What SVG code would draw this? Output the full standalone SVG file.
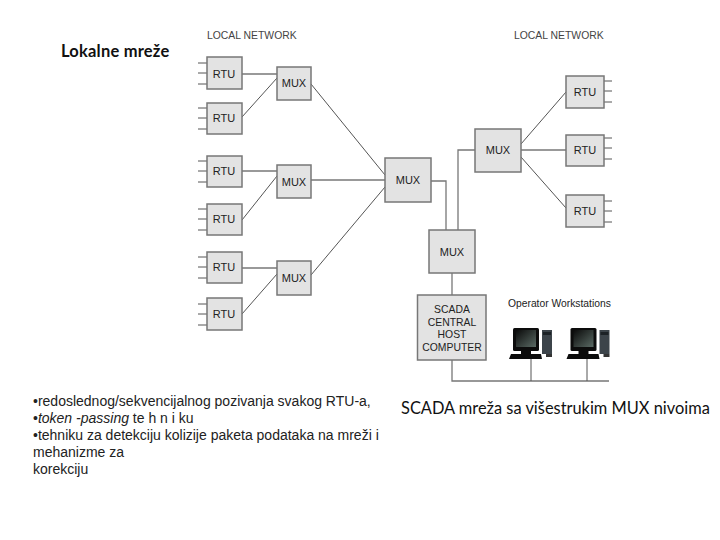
<svg xmlns="http://www.w3.org/2000/svg" width="720" height="540" viewBox="0 0 720 540">
<style>
text{font-family:"Liberation Sans",Arial,sans-serif;fill:#222}
.b{fill:#e3e3e3;stroke:#777;stroke-width:1.5}
.l{font-size:11px;text-anchor:middle}
.n{font-size:10.4px;fill:#444}
.c{fill:none;stroke:#777;stroke-width:1.3}
.d{fill:none;stroke:#555;stroke-width:1}
.s{stroke:#555;stroke-width:1;fill:none}
.h{font-size:10.4px;text-anchor:middle}
.cap{fill:#111}
.k{fill:#0c0c0c}
.g{fill:#3c444a}
</style>
<defs>
<linearGradient id="scr" x1="0" y1="0" x2="1" y2="1"><stop offset="0" stop-color="#0a0a0a"/><stop offset="1" stop-color="#5a6a64"/></linearGradient>
<g id="stL"><path class="s" d="M198 0h9M198 10h9M198 21h9"/></g>
<g id="stR"><path class="s" d="M604 0h8M604 10h8M604 21h8"/></g>
<g id="pc">
<rect class="k" x="4" y="0" width="26" height="23" rx="1.500"/>
<rect x="7" y="2" width="20" height="17" fill="url(#scr)"/>
<path class="k" d="M12 23h10v3h10l1 5H0l2-5h10z"/>
<rect class="g" x="33" y="2" width="10" height="24"/>
<rect x="34" y="4" width="8" height="3" fill="#1c2226"/>
<rect x="37" y="26" width="6" height="3" fill="#333"/>
</g>
</defs>
<text class="cap" x="61" y="57" font-size="16.500" font-weight="700" letter-spacing="0.200" style="font-family:Lato,'Open Sans',sans-serif">Lokalne mreže</text>
<text class="n" x="207" y="39">LOCAL NETWORK</text>
<text class="n" x="514" y="39">LOCAL NETWORK</text>
<g id="connectors">
<path class="c" d="M242 74H277"/>
<path class="d" d="M242 117L277 78"/>
<path class="d" d="M311 84L385 175"/>
<path class="c" d="M242 171H277"/>
<path class="d" d="M242 220L277 176"/>
<path class="c" d="M311 180H385"/>
<path class="c" d="M242 268H277"/>
<path class="d" d="M242 314L277 274"/>
<path class="d" d="M311 275L385 187"/>
<path class="c" d="M431 181H446V230"/>
<path class="c" d="M475 150H458V230"/>
<path class="d" d="M521 144L566 92"/>
<path class="c" d="M521 150H566"/>
<path class="d" d="M521 157L566 208"/>
<path class="c" d="M452 273V295"/>
<path class="c" d="M452 360V381H609"/>
<path class="s" d="M531 359V381M587 359V381"/>
</g>
<g id="rtu1"><use href="#stL" y="63"/><rect class="b" x="207" y="57" width="35" height="32"/><text class="l" x="224" y="78">RTU</text></g>
<g id="rtu2"><use href="#stL" y="108"/><rect class="b" x="207" y="103" width="35" height="31"/><text class="l" x="224" y="122">RTU</text></g>
<g id="rtu3"><use href="#stL" y="161"/><rect class="b" x="207" y="156" width="35" height="31"/><text class="l" x="224" y="175">RTU</text></g>
<g id="rtu4"><use href="#stL" y="209"/><rect class="b" x="207" y="204" width="35" height="31"/><text class="l" x="224" y="223">RTU</text></g>
<g id="rtu5"><use href="#stL" y="257"/><rect class="b" x="207" y="252" width="35" height="31"/><text class="l" x="224" y="271">RTU</text></g>
<g id="rtu6"><use href="#stL" y="304"/><rect class="b" x="207" y="298" width="35" height="32"/><text class="l" x="224" y="318">RTU</text></g>
<g id="mux1"><rect class="b" x="277" y="67" width="34" height="33"/><text class="l" x="294" y="87">MUX</text></g>
<g id="mux2"><rect class="b" x="277" y="165" width="34" height="33"/><text class="l" x="294" y="186">MUX</text></g>
<g id="mux3"><rect class="b" x="277" y="261" width="34" height="34"/><text class="l" x="294" y="282">MUX</text></g>
<g id="mux4"><rect class="b" x="385" y="158" width="46" height="44"/><text class="l" x="408" y="184">MUX</text></g>
<g id="mux5"><rect class="b" x="475" y="129" width="46" height="43"/><text class="l" x="498" y="154">MUX</text></g>
<g id="mux6"><rect class="b" x="429" y="230" width="46" height="43"/><text class="l" x="452" y="256">MUX</text></g>
<g id="rtu7"><use href="#stR" y="81"/><rect class="b" x="566" y="76" width="38" height="32"/><text class="l" x="585" y="96">RTU</text></g>
<g id="rtu8"><use href="#stR" y="138"/><rect class="b" x="566" y="135" width="38" height="31"/><text class="l" x="585" y="154">RTU</text></g>
<g id="rtu9"><use href="#stR" y="201"/><rect class="b" x="566" y="195" width="38" height="32"/><text class="l" x="585" y="215">RTU</text></g>
<g id="scada"><rect class="b" x="417.500" y="295" width="68.500" height="65"/>
<text class="h" x="452" y="313">SCADA</text><text class="h" x="452" y="326">CENTRAL</text><text class="h" x="452" y="338">HOST</text><text class="h" x="452" y="351">COMPUTER</text></g>
<text x="508" y="307" font-size="10.300" fill="#333">Operator Workstations</text>
<g id="ws1"><use href="#pc" x="509" y="328"/></g>
<g id="ws2"><use href="#pc" x="566.500" y="328"/></g>
<text font-size="14" x="33" y="406">•redoslednog/sekvencijalnog pozivanja svakog RTU-a,</text>
<text font-size="14" x="33" y="423">•<tspan font-style="italic">token -passing</tspan> te h n i ku</text>
<text font-size="14" x="33" y="440">•tehniku za detekciju kolizije paketa podataka na mreži i</text>
<text font-size="14" x="33" y="457">mehanizme za</text>
<text font-size="14" x="33" y="474">korekciju</text>
<text class="cap" x="401" y="414" font-size="16.400" style="font-family:Lato,'Open Sans',sans-serif">SCADA mreža sa višestrukim MUX nivoima</text>
</svg>
